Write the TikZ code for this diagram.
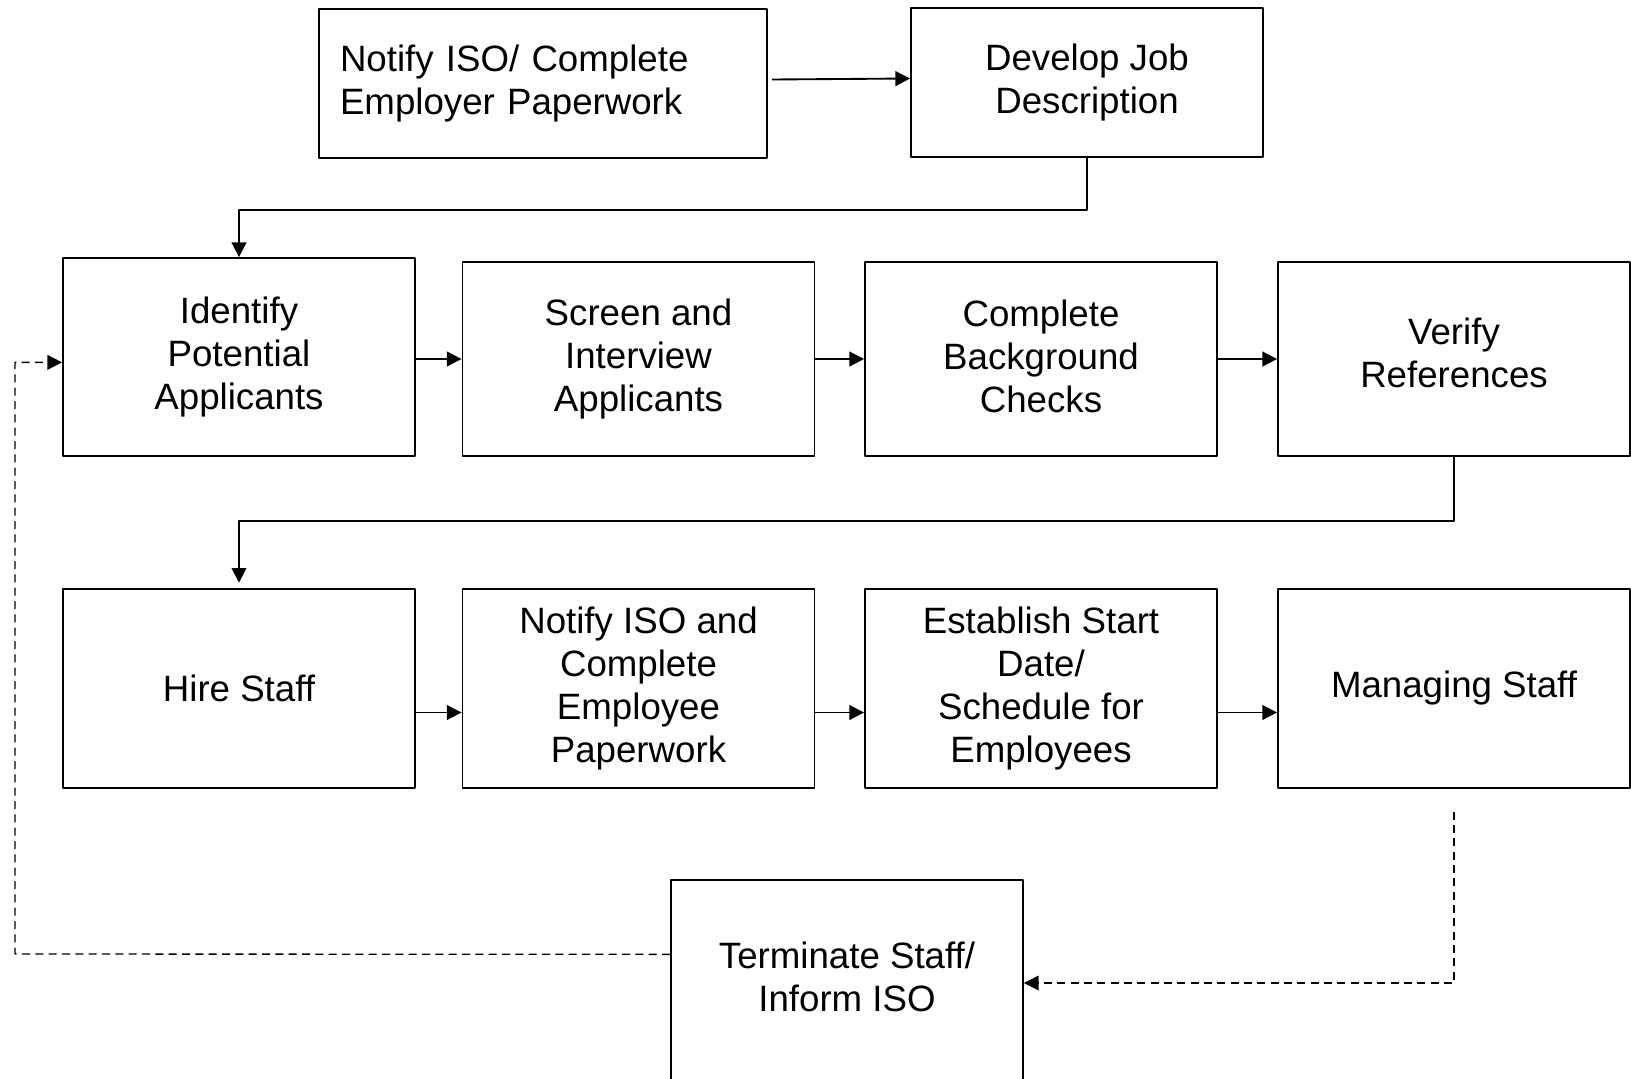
\documentclass[tikz,border=0pt]{standalone}
\usepackage{fontspec}
\setmainfont{Liberation Sans}
\usetikzlibrary{arrows.meta}
% invisible depth to lift a centred label a little
\newcommand{\lift}[1]{\rule[-#1]{0pt}{0pt}}
\begin{document}
\begin{tikzpicture}[x=0.75pt, y=-0.75pt, line join=round,
		font=\fontsize{27.5}{32.25}\selectfont,
		stage/.style={draw, line width=1.4pt, align=center, inner sep=0pt, minimum width=264pt, minimum height=145.5pt},
		flow/.style={line width=1.4pt, -{Triangle[length=11pt,width=11pt]}},
		back/.style={flow, line width=1pt, dash pattern=on 6pt off 4pt}]
	\useasboundingbox (0,0) rectangle (1631,1078);
	% top row
	\node[stage, minimum width=336pt, minimum height=111.75pt, text width=304.5pt, inner xsep=15.75pt, align=left] (employer) at (543,83.5) {Notify ISO/ Complete\\Employer Paperwork};
	\node[stage, minimum height=111.75pt] (jobdesc) at (1087,82.5) {Develop Job\\Description};
	% recruiting row
	\node[stage, minimum height=148.5pt] (identify) at (239,357) {Identify\\Potential\\Applicants};
	\node[stage] (screen) at (638.5,359) {Screen and\\Interview\\Applicants};
	\node[stage] (checks) at (1041,359) {Complete\\Background\\Checks\lift{4.5pt}};
	\node[stage] (verify) at (1454,359) {Verify\\References\lift{9pt}};
	% hiring row
	\node[stage, minimum height=149.25pt] (hire) at (239,688.5) {Hire Staff};
	\node[stage, minimum height=149.25pt] (paperwork) at (638.5,688.5) {Notify ISO and\\Complete\\Employee\\Paperwork};
	\node[stage, minimum height=149.25pt] (schedule) at (1041,688.5) {Establish Start\\Date/\\Schedule for\\Employees};
	\node[stage, minimum height=149.25pt] (manage) at (1454,688.5) {Managing Staff};
	% leaving
	\node[stage, minimum height=151.5pt] (terminate) at (847,981) {Terminate Staff/\\Inform ISO\lift{6pt}};
	% solid flow
	\draw[flow] ([xshift=3pt,yshift=3pt]employer.east) -- ([yshift=3pt]jobdesc.west);
	\draw[flow] (jobdesc.south) -- ++(0,52) -| (identify.north);
	\draw[flow] (identify.east |- screen) -- (screen.west);
	\draw[flow] (screen) -- (checks.west);
	\draw[flow] (checks) -- (verify.west);
	\draw[flow] (verify.south) -- ++(0,64) -| ([yshift=4pt]hire.north);
	\draw[flow] ([yshift=-18pt]hire.east) -- ([yshift=-18pt]paperwork.west);
	\draw[flow] ([yshift=-18pt]paperwork.east) -- ([yshift=-18pt]schedule.west);
	\draw[flow] ([yshift=-18pt]schedule.east) -- ([yshift=-18pt]manage.west);
	% dashed loop back
	\draw[back] ([yshift=-17pt]manage.south) |- ([yshift=-1.5pt]terminate.east);
	\draw[back] ([yshift=20pt]terminate.west) -- (15,954) |- ([yshift=-4pt]identify.west);
\end{tikzpicture}
\end{document}
